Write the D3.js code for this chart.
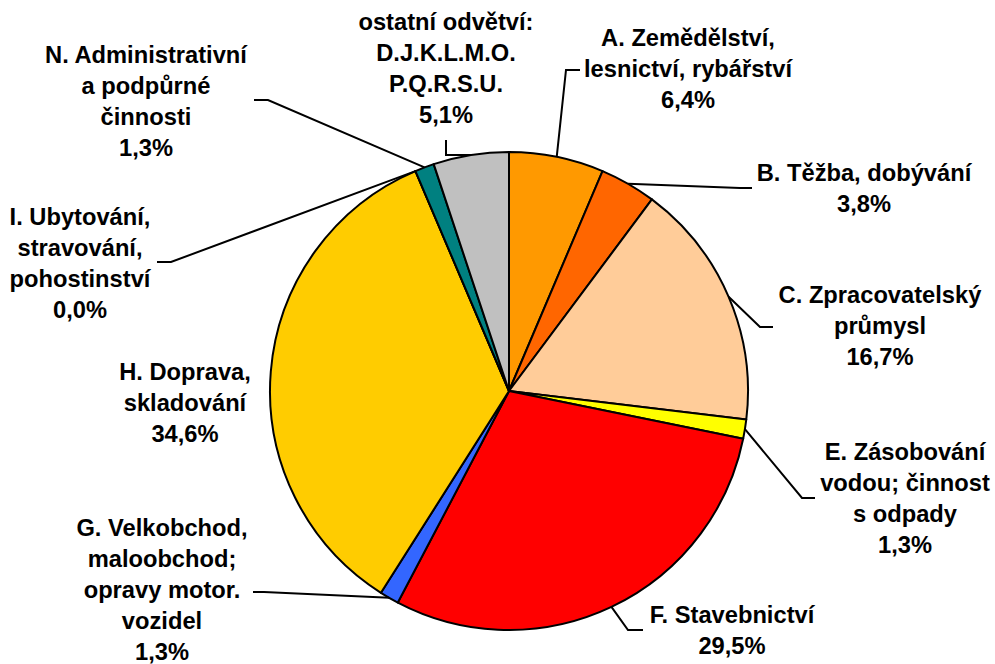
<!DOCTYPE html>
<html>
<head>
<meta charset="utf-8">
<script src="https://cdn.jsdelivr.net/npm/d3@7"></script>
<style>
  body { margin: 0; background: #fff; }
  text { font-family: "Liberation Sans", Arial, sans-serif; font-weight: bold; font-size: 23.7px; fill: #000; }
</style>
</head>
<body>
<div id="chart"></div>
<script>
// categories (label lines) and values in %
var categories = [
    ["A. Zemědělství,", "lesnictví, rybářství"],
    ["B. Těžba, dobývání"],
    ["C. Zpracovatelský", "průmysl"],
    ["E. Zásobování", "vodou; činnost", "s odpady"],
    ["F. Stavebnictví"],
    ["G. Velkobchod,", "maloobchod;", "opravy motor.", "vozidel"],
    ["H. Doprava,", "skladování"],
    ["I. Ubytování,", "stravování,", "pohostinství"],
    ["N. Administrativní", "a podpůrné", "činnosti"],
    ["ostatní odvětví:", "D.J.K.L.M.O.", "P.Q.R.S.U."]
];
var values = [6.4, 3.8, 16.7, 1.3, 29.5, 1.3, 34.6, 0.0, 1.3, 5.1];
var colors = ["#FF9900", "#FF6600", "#FFCC99", "#FFFF00", "#FF0000", "#3366FF", "#FFCC00", "#993366", "#008080", "#C0C0C0"];

// label placement: centre x, first line y, anchor near label, elbow point
var labelLayout = [
    { x: 688, y: 38,  anchor: [580, 70],  elbow: [566, 70] },
    { x: 864, y: 173, anchor: [752, 188], elbow: [740, 188] },
    { x: 880, y: 295, anchor: [773, 327], elbow: [760, 327] },
    { x: 905, y: 452, anchor: [815, 498], elbow: [802, 498] },
    { x: 732, y: 615, anchor: [643, 630], elbow: [628, 630] },
    { x: 162, y: 528, anchor: [253, 592], elbow: [264, 592] },
    { x: 185, y: 372, anchor: null,       elbow: null },
    { x: 80,  y: 217, anchor: [157, 262], elbow: [171, 262] },
    { x: 146, y: 55,  anchor: [254, 100], elbow: [268, 100] },
    { x: 446, y: 22,  anchor: [446, 140], elbow: [446, 155] }
];

var width = 995, height = 664;
var cx = 509, cy = 391, radius = 239;
var lineH = 31;

var data = values.map(function (v, i) {
    return { value: v, lines: categories[i], color: colors[i], pos: labelLayout[i] };
});

var svg = d3.select("#chart").append("svg")
    .attr("width", width)
    .attr("height", height);

var pie = d3.pie().sort(null).value(function (d) { return d.value; });
var arc = d3.arc().innerRadius(0).outerRadius(radius);
var arcs = pie(data);

var g = svg.append("g").attr("transform", "translate(" + cx + "," + cy + ")");

g.selectAll("path.slice")
    .data(arcs)
    .enter().append("path")
    .attr("class", "slice")
    .attr("d", arc)
    .attr("fill", function (d) { return d.data.color; })
    .attr("stroke", "#000")
    .attr("stroke-width", 2)
    .attr("stroke-linejoin", "round");

// leader lines
var fmt = d3.format(".1f");
arcs.forEach(function (d) {
    var p = d.data.pos;
    if (!p.anchor) return;
    var mid = (d.startAngle + d.endAngle) / 2;
    var ex = cx + radius * Math.sin(mid), ey = cy - radius * Math.cos(mid);
    svg.append("polyline")
        .attr("points", [p.anchor, p.elbow, [ex, ey]].map(function (q) { return q.join(","); }).join(" "))
        .attr("fill", "none")
        .attr("stroke", "#000")
        .attr("stroke-width", 2);
});

// labels
arcs.forEach(function (d) {
    var p = d.data.pos;
    var lines = d.data.lines.concat([fmt(d.data.value).replace(".", ",") + "%"]);
    var t = svg.append("text")
        .attr("text-anchor", "middle")
        .attr("x", p.x);
    lines.forEach(function (l, i) {
        t.append("tspan")
            .attr("x", p.x)
            .attr("y", p.y + i * lineH)
            .attr("dy", "0.35em")
            .text(l);
    });
});
</script>
</body>
</html>
